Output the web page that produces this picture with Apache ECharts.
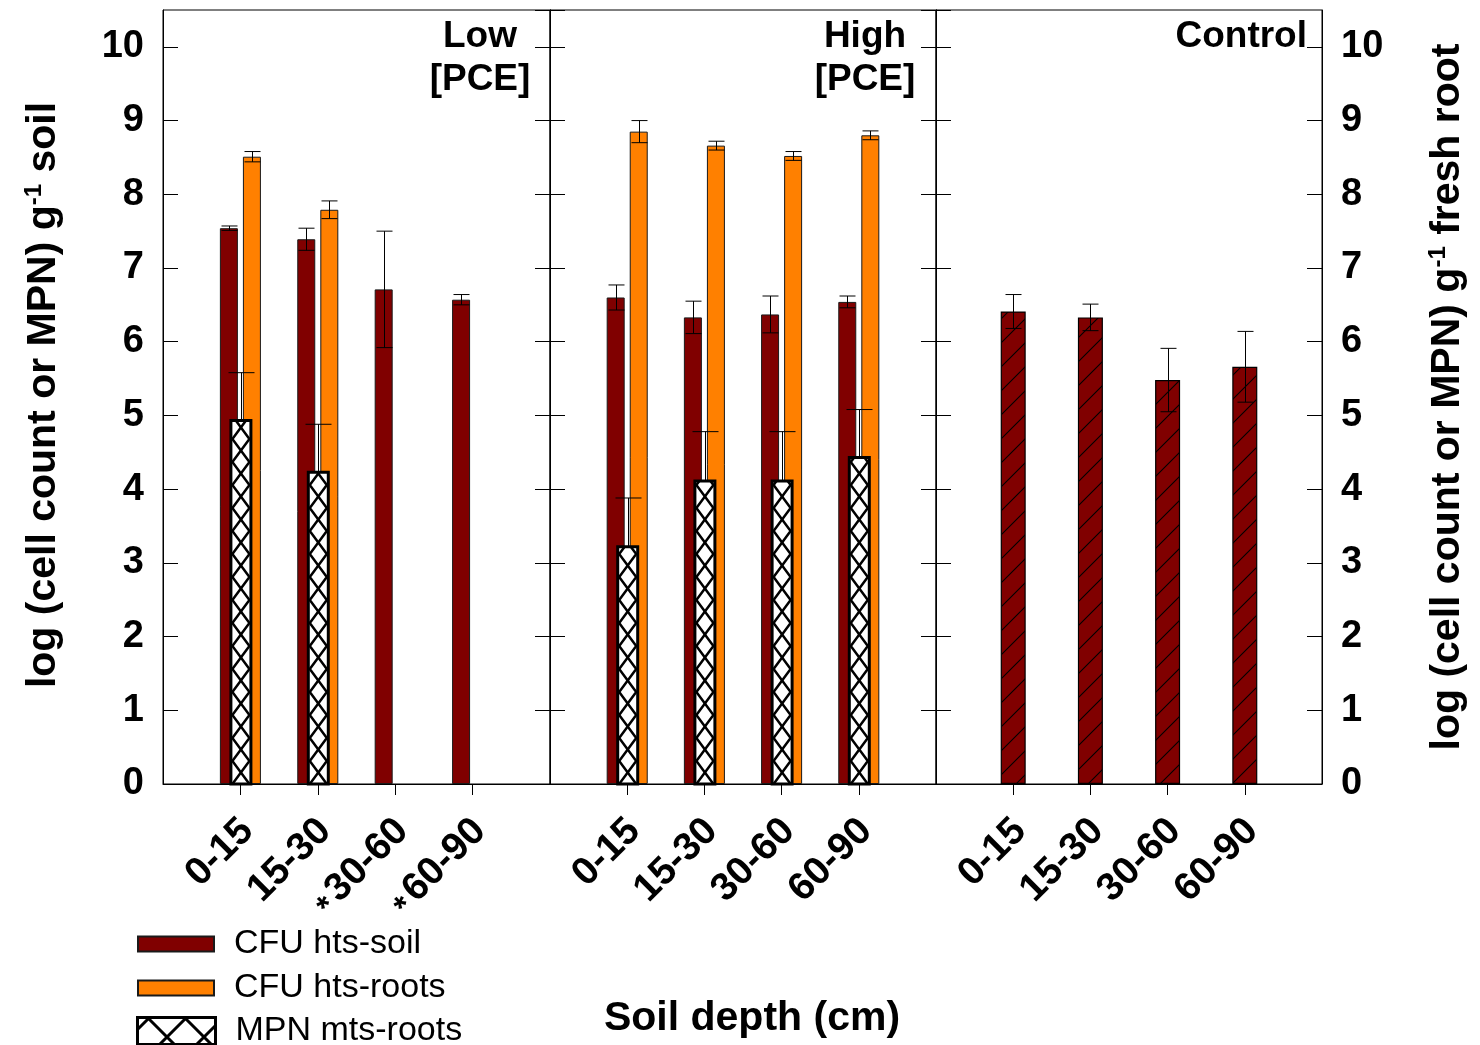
<!DOCTYPE html>
<html><head><meta charset="utf-8">
<script src="https://cdn.jsdelivr.net/npm/echarts@6/dist/echarts.min.js"></script>
<style>html,body{margin:0;padding:0;background:#fff}#c{width:1480px;height:1045px}</style>
</head><body><div id="c"></div>
<script>
// ---------------- data ----------------
const lowTickLabels = ['0-15', '15-30', '*30-60', '*60-90'];
const highTickLabels = ['0-15', '15-30', '30-60', '60-90'];
const controlTickLabels = ['0-15', '15-30', '30-60', '60-90'];
const panelTitles = ['Low\n[PCE]', 'High\n[PCE]', 'Control'];
const seriesNames = ['CFU hts-soil', 'CFU hts-roots', 'MPN mts-roots'];

const lowSoil = [7.54, 7.39, 6.71, 6.57];
const lowSoilErr = [0.03, 0.15, 0.79, 0.07];
const lowRoots = [8.51, 7.79, null, null];
const lowRootsErr = [0.07, 0.12, null, null];
const lowMpn = [4.93, 4.23, null, null];
const lowMpnErr = [0.65, 0.65, null, null];

const highSoil = [6.60, 6.33, 6.37, 6.54];
const highSoilErr = [0.17, 0.22, 0.25, 0.08];
const highRoots = [8.85, 8.66, 8.52, 8.80];
const highRootsErr = [0.15, 0.06, 0.06, 0.06];
const highMpn = [3.22, 4.11, 4.11, 4.43];
const highMpnErr = [0.66, 0.67, 0.67, 0.65];

const controlSoil = [6.41, 6.33, 5.48, 5.66];
const controlSoilErr = [0.23, 0.18, 0.43, 0.48];

// ---------------- helpers ----------------
const FONT = '"Liberation Sans", Arial, Helvetica, sans-serif';
const padCats = a => [''].concat(a, ['']);
const padVals = a => [null].concat(a.map(v => v == null ? null : v), [null]);
const triples = (vals, errs) => vals.map((v, i) => v == null ? null : [i + 1, v, errs[i]]).filter(d => d);

// hatch pattern for control bars
const hatch = document.createElement('canvas');
hatch.width = 24; hatch.height = 24;
(function () {
  const g = hatch.getContext('2d');
  g.fillStyle = '#800000'; g.fillRect(0, 0, 24, 24);
  g.strokeStyle = '#000'; g.lineWidth = 1.1; g.beginPath();
  g.moveTo(-2, 26); g.lineTo(26, -2);
  g.moveTo(-2, 2); g.lineTo(2, -2);
  g.moveTo(22, 26); g.lineTo(26, 22);
  g.stroke();
})();

function mpnRender(params, api) {
  const x = api.value(0), v = api.value(1);
  const base = api.coord([x, 0]), top = api.coord([x, v]);
  const w = 20, cx = base[0] + 0.5;
  const L = cx - w / 2, R = cx + w / 2, B = base[1], T = top[1];
  const li = L + 1.5, ri = R - 1.5, half = 23;
  function zig(startLeft) {
    const pts = []; let y = B; let atLeft = startLeft;
    pts.push([atLeft ? li : ri, y]);
    while (y > T + 0.01) {
      let ny = y - half; let nx = atLeft ? ri : li;
      if (ny < T) {
        const f = (y - T) / half;
        nx = atLeft ? li + (ri - li) * f : ri - (ri - li) * f; ny = T;
      }
      pts.push([nx, ny]); y = ny; atLeft = !atLeft;
    }
    return pts;
  }
  return {
    type: 'group', children: [
      { type: 'rect', z2: 10, shape: { x: L, y: T, width: w, height: B - T }, style: { fill: '#fff' } },
      { type: 'polyline', z2: 11, shape: { points: zig(true) }, style: { stroke: '#000', lineWidth: 2.5, fill: null } },
      { type: 'polyline', z2: 11, shape: { points: zig(false) }, style: { stroke: '#000', lineWidth: 2.5, fill: null } },
      { type: 'rect', z2: 12, shape: { x: L, y: T, width: w, height: B - T }, style: { fill: null, stroke: '#000', lineWidth: 3 } }
    ]
  };
}

function errRender(offset, cap, both) {
  return function (params, api) {
    const x = api.value(0), v = api.value(1), e = api.value(2);
    const p = api.coord([x, v]);
    const hi = api.coord([x, v + e]);
    const lo = api.coord([x, both ? v - e : v]);
    const cx = Math.round(p[0] + offset) + 0.5;
    const st = { stroke: '#000', lineWidth: 1 };
    const ch = [
      { type: 'line', shape: { x1: cx, y1: hi[1], x2: cx, y2: lo[1] }, style: st },
      { type: 'line', shape: { x1: cx - cap / 2, y1: hi[1], x2: cx + cap / 2, y2: hi[1] }, style: st }
    ];
    if (both) ch.push({ type: 'line', shape: { x1: cx - cap / 2, y1: lo[1], x2: cx + cap / 2, y2: lo[1] }, style: st });
    return { type: 'group', children: ch };
  };
}

// ---------------- layout ----------------
const grids = [
  { left: 163, top: 10, width: 387, height: 774, show: true, borderColor: '#000', borderWidth: 1 },
  { left: 550, top: 10, width: 386, height: 774, show: true, borderColor: '#000', borderWidth: 1 },
  { left: 936, top: 10, width: 386, height: 774, show: true, borderColor: '#000', borderWidth: 1 }
];
const tickSets = [lowTickLabels, highTickLabels, controlTickLabels];

const xAxes = tickSets.map((labels, i) => ({
  type: 'category', gridIndex: i, boundaryGap: false, data: padCats(labels),
  axisLine: { show: true, lineStyle: { color: '#000', width: 1 } },
  axisTick: { show: true, interval: (idx, val) => val !== '', length: 11, lineStyle: { color: '#000' } },
  axisLabel: {
    interval: 0, rotate: 45, margin: 34, padding: [20, 0, 0, 0], fontSize: 39, fontWeight: 'bold', color: '#000', fontFamily: FONT,
    formatter: v => v.replace('*', '{a|*}'),
    rich: { a: { fontSize: 33, fontWeight: 'bold', fontFamily: FONT, color: '#000', verticalAlign: 'bottom', height: 28, padding: [0, 5, 0, 0] } }
  },
  splitLine: { show: false }
}));

const yAxes = [];
for (let i = 0; i < 3; i++) {
  ['left', 'right'].forEach(pos => {
    const showLab = (i === 0 && pos === 'left') || (i === 2 && pos === 'right');
    yAxes.push({
      type: 'value', gridIndex: i, position: pos, min: 0, max: 10.5, interval: 1,
      axisLine: { show: true, lineStyle: { color: '#000', width: 1 } },
      axisTick: { show: true, inside: true, length: 15, lineStyle: { color: '#000' } },
      axisLabel: {
        show: showLab, margin: 19, fontSize: 38, fontWeight: 'bold', color: '#000', fontFamily: FONT,
        padding: [6, 0, 0, 0],
        showMaxLabel: false, formatter: v => (Number.isInteger(v) ? String(v) : '')
      },
      splitLine: { show: false }
    });
  });
}

const soilStyle = { color: '#800000', borderColor: '#1a1a1a', borderWidth: 1 };
const rootStyle = { color: '#FF8000', borderColor: '#1a1a1a', borderWidth: 1 };

const series = [
  { type: 'bar', name: seriesNames[0], xAxisIndex: 0, yAxisIndex: 0, z: 2, data: padVals(lowSoil), barWidth: 18, barGap: '28%', itemStyle: soilStyle },
  { type: 'bar', name: seriesNames[1], xAxisIndex: 0, yAxisIndex: 0, z: 2, data: padVals(lowRoots), barWidth: 18, barGap: '28%', itemStyle: rootStyle },
  { type: 'bar', name: seriesNames[0], xAxisIndex: 1, yAxisIndex: 2, z: 2, data: padVals(highSoil), barWidth: 18, barGap: '28%', itemStyle: soilStyle },
  { type: 'bar', name: seriesNames[1], xAxisIndex: 1, yAxisIndex: 2, z: 2, data: padVals(highRoots), barWidth: 18, barGap: '28%', itemStyle: rootStyle },
  { type: 'bar', name: seriesNames[0], xAxisIndex: 2, yAxisIndex: 4, z: 2, data: padVals(controlSoil), barWidth: 25,
    itemStyle: { color: { image: hatch, repeat: 'repeat' }, borderColor: '#000', borderWidth: 1.2 } },
  { type: 'custom', name: seriesNames[2], xAxisIndex: 0, yAxisIndex: 0, z: 4, renderItem: mpnRender, data: triples(lowMpn, lowMpnErr), encode: { x: 0, y: 1 }, itemStyle: { color: '#fff', borderColor: '#000' } },
  { type: 'custom', name: seriesNames[2], xAxisIndex: 1, yAxisIndex: 2, z: 4, renderItem: mpnRender, data: triples(highMpn, highMpnErr), encode: { x: 0, y: 1 }, itemStyle: { color: '#fff', borderColor: '#000' } },
  // error bars
  { type: 'custom', xAxisIndex: 0, yAxisIndex: 0, renderItem: errRender(-11.5, 16, true), data: triples(lowSoil, lowSoilErr), encode: { x: 0, y: 1 }, z: 5 },
  { type: 'custom', xAxisIndex: 0, yAxisIndex: 0, renderItem: errRender(11.5, 16, true), data: triples(lowRoots, lowRootsErr), encode: { x: 0, y: 1 }, z: 5 },
  { type: 'custom', xAxisIndex: 0, yAxisIndex: 0, renderItem: errRender(0.5, 26, false), data: triples(lowMpn, lowMpnErr), encode: { x: 0, y: 1 }, z: 5 },
  { type: 'custom', xAxisIndex: 1, yAxisIndex: 2, renderItem: errRender(-11.5, 16, true), data: triples(highSoil, highSoilErr), encode: { x: 0, y: 1 }, z: 5 },
  { type: 'custom', xAxisIndex: 1, yAxisIndex: 2, renderItem: errRender(11.5, 16, true), data: triples(highRoots, highRootsErr), encode: { x: 0, y: 1 }, z: 5 },
  { type: 'custom', xAxisIndex: 1, yAxisIndex: 2, renderItem: errRender(0.5, 26, false), data: triples(highMpn, highMpnErr), encode: { x: 0, y: 1 }, z: 5 },
  { type: 'custom', xAxisIndex: 2, yAxisIndex: 4, renderItem: errRender(0, 16, true), data: triples(controlSoil, controlSoilErr), encode: { x: 0, y: 1 }, z: 5 }
];

// legend icon for MPN (rect + crosshatch)
function mpnIconPath() {
  const W = 78, H = 27, s = 37;
  let p = 'path://M0,0L' + W + ',0L' + W + ',' + H + 'L0,' + H + 'Z';
  for (let a = -H; a < W; a += s) {
    const y0 = Math.max(0, -a), y1 = Math.min(H, W - a);
    if (y1 > y0) p += 'M' + (a + y0) + ',' + y0 + 'L' + (a + y1) + ',' + y1;
  }
  for (let b = 12; b < W + H; b += s) {
    const y0 = Math.max(0, b - W), y1 = Math.min(H, b);
    if (y1 > y0) p += 'M' + (b - y0) + ',' + y0 + 'L' + (b - y1) + ',' + y1;
  }
  return p;
}

const legendText = { fontSize: 34, color: '#000', fontFamily: FONT, lineHeight: 38, padding: [0, 0, 0, 15] };

const option = {
  animation: false,
  backgroundColor: '#fff',
  grid: grids,
  xAxis: xAxes,
  yAxis: yAxes,
  legend: [
    { orient: 'vertical', left: 137, top: 925, padding: 0, itemWidth: 76, itemHeight: 15, itemGap: 6, selectedMode: false,
      icon: 'rect', data: [seriesNames[0], seriesNames[1]], textStyle: legendText },
    { orient: 'vertical', left: 136, top: 1012, padding: 0, itemWidth: 78, itemHeight: 27, selectedMode: false,
      data: [{ name: seriesNames[2], icon: mpnIconPath(), itemStyle: { color: '#fff', borderColor: '#000', borderWidth: 3 } }],
      textStyle: legendText }
  ],
  graphic: [
    { type: 'text', x: 480, y: 15, style: { text: panelTitles[0], fill: '#000', font: 'bold 37px ' + FONT, align: 'center', textAlign: 'center', verticalAlign: 'top', textVerticalAlign: 'top', lineHeight: 43 } },
    { type: 'text', x: 865, y: 15, style: { text: panelTitles[1], fill: '#000', font: 'bold 37px ' + FONT, align: 'center', textAlign: 'center', verticalAlign: 'top', textVerticalAlign: 'top', lineHeight: 43 } },
    { type: 'text', x: 1307, y: 15, style: { text: panelTitles[2], fill: '#000', font: 'bold 37px ' + FONT, align: 'right', textAlign: 'right', verticalAlign: 'top', textVerticalAlign: 'top', lineHeight: 43 } },
    { type: 'text', x: 752, y: 1019, style: { text: 'Soil depth (cm)', fill: '#000', font: 'bold 41px ' + FONT, align: 'center', textAlign: 'center', verticalAlign: 'middle', textVerticalAlign: 'middle' } },
    { type: 'text', x: 44, y: 395, rotation: Math.PI / 2,
      style: { text: 'log (cell count or MPN) g{sup|-1} soil', fill: '#000', font: 'bold 41px ' + FONT, lineHeight: 44,
        align: 'center', textAlign: 'center', verticalAlign: 'middle', textVerticalAlign: 'middle',
        rich: { sup: { fontSize: 24, fontWeight: 'bold', fontFamily: FONT, fill: '#000', verticalAlign: 'top', lineHeight: 20 } } } },
    { type: 'text', x: 1448, y: 397, rotation: Math.PI / 2,
      style: { text: 'log (cell count or MPN) g{sup|-1} fresh root', fill: '#000', font: 'bold 41px ' + FONT, lineHeight: 44,
        align: 'center', textAlign: 'center', verticalAlign: 'middle', textVerticalAlign: 'middle',
        rich: { sup: { fontSize: 24, fontWeight: 'bold', fontFamily: FONT, fill: '#000', verticalAlign: 'top', lineHeight: 20 } } } }
  ],
  series: series
};

const chart = echarts.init(document.getElementById('c'), null, { renderer: 'canvas' });
chart.setOption(option);
</script>
</body></html>
